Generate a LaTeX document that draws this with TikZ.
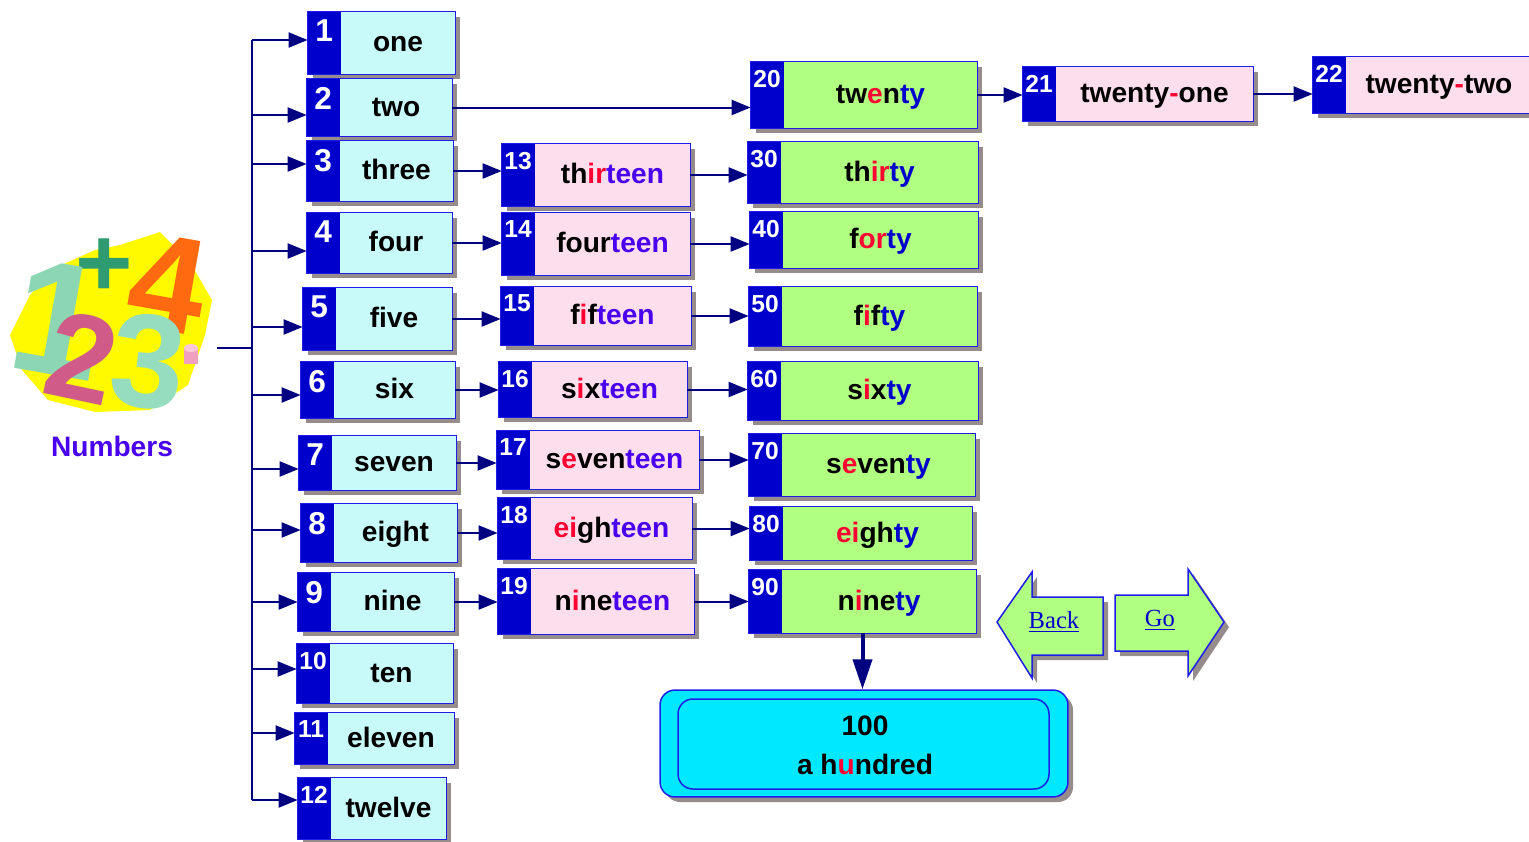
\documentclass[tikz,border=0pt]{standalone}
\usepackage{fontspec}
\setmainfont{Liberation Sans}
\newfontfamily\backfont{Liberation Serif}
\usepackage{xcolor}
\usetikzlibrary{arrows.meta,calc}

\definecolor{numblue}{RGB}{0,0,204}
\definecolor{edgeblue}{RGB}{30,30,230}
\definecolor{navy}{RGB}{0,0,128}
\definecolor{lightcyan}{RGB}{200,250,250}
\definecolor{lightpink}{RGB}{252,222,236}
\definecolor{lightgreen}{RGB}{176,255,128}
\definecolor{boxshadow}{RGB}{150,140,140}
\definecolor{wordred}{RGB}{255,0,51}
\definecolor{teenviolet}{RGB}{72,0,238}
\definecolor{tyblue}{RGB}{0,0,204}
\definecolor{hundredcyan}{RGB}{0,232,255}
\definecolor{artyellow}{RGB}{255,250,0}
\definecolor{artgreen}{RGB}{46,156,112}
\definecolor{artorange}{RGB}{255,106,16}
\definecolor{artteal}{RGB}{140,214,180}
\definecolor{artrose}{RGB}{208,90,136}
\definecolor{artmint}{RGB}{150,220,190}
\definecolor{artpink}{RGB}{240,160,190}
\definecolor{artpale}{RGB}{250,200,215}

\newcommand{\rd}[1]{\textcolor{wordred}{#1}}
\newcommand{\tn}[1]{\textcolor{teenviolet}{#1}}
\newcommand{\ty}[1]{\textcolor{tyblue}{#1}}
\newcommand{\onedigit}[1]{{\fontsize{18}{18}\selectfont #1}}

\tikzset{
  wordbox/.style={rectangle, inner sep=0pt, draw=none},
  numlabel/.style={anchor=north, inner sep=0pt, text=white,
    font=\bfseries\fontsize{14}{14}\selectfont},
  wordlabel/.style={inner sep=0pt, font=\bfseries\fontsize{16}{16}\selectfont},
  artdigit/.style={inner sep=0pt, font=\bfseries\fontsize{#1}{#1}\selectfont},
  link/.style={navy, line width=0.04cm, -{Triangle[length=0.38cm,width=0.3cm]}},
  wire/.style={navy, line width=0.04cm},
}

% box with number block: name, left, top, right, bottom, number, word, fill
\newcommand{\numbox}[8]{%
  \pgfmathsetmacro\boxw{(#4-#2)*0.02}%
  \pgfmathsetmacro\boxh{(#5-#3)*0.02}%
  \fill[boxshadow] (#2+5,#3+5) rectangle (#4+5,#5+5);%
  \node[wordbox, fill=#8, minimum width=\boxw*1cm, minimum height=\boxh*1cm] (#1) at ({(#2+#4)/2},{(#3+#5)/2}) {};%
  \fill[numblue] (#1.north west) rectangle ([xshift=0.66cm]#1.south west);%
  \draw[edgeblue, line width=0.03cm] (#1.north west) rectangle (#1.south east);%
  \node[numlabel] at ([xshift=0.33cm,yshift=-0.16cm]#1.north west) {#6};%
  \node[wordlabel, anchor=base] at ([xshift=0.33cm,yshift=-0.17cm]#1.center) {#7};%
}

\begin{document}
\begin{tikzpicture}[x=0.02cm,y=-0.02cm]
            \useasboundingbox (0,0) rectangle (1529,842);
            \clip (0,0) rectangle (1529,842);
            
            % Drawing the clip art
            \fill[artyellow] (10,335) -- (30,295) -- (55,268) -- (95,250) -- (120,245) -- (160,232) -- (190,262) -- (212,300) -- (205,335) -- (188,385) -- (150,410) -- (95,412) -- (48,400) -- (22,370) -- cycle;%
            \node[artdigit=56, text=artgreen] (plus) at (104,268) {+};%
            \node[artdigit=78, rotate=-10, text=artorange] (four) at (168,284) {4};%
            \node[artdigit=92, rotate=-10, text=artteal] (one) at (58,320) {1};%
            \node[artdigit=70, rotate=-12, text=artrose] (two) at (82,358) {2};%
            \node[artdigit=76, rotate=-6, text=artmint] (three) at (148,362) {3};%
            \fill[artpink] (184,348) rectangle (198,364);%
            \fill[artpale] (191,348) ellipse (7 and 4);%
            \node[inner sep=0pt, minimum width=4.2cm, minimum height=3.7cm] (art) at (112,325) {};%
            \node[wordlabel, text=teenviolet] (title) at (112,446) {Numbers};%
            
            % Drawing boxes one to twelve
            \numbox{b1}{308}{12}{455}{74}{\onedigit{1}}{one}{lightcyan}%
            \numbox{b2}{307}{79}{452}{136}{\onedigit{2}}{two}{lightcyan}%
            \numbox{b3}{307}{141}{453}{201}{\onedigit{3}}{three}{lightcyan}%
            \numbox{b4}{307}{213}{452}{273}{\onedigit{4}}{four}{lightcyan}%
            \numbox{b5}{303}{288}{452}{350}{\onedigit{5}}{five}{lightcyan}%
            \numbox{b6}{301}{362}{455}{418}{\onedigit{6}}{six}{lightcyan}%
            \numbox{b7}{299}{436}{456}{490}{\onedigit{7}}{seven}{lightcyan}%
            \numbox{b8}{301}{504}{457}{562}{\onedigit{8}}{eight}{lightcyan}%
            \numbox{b9}{298}{573}{454}{631}{\onedigit{9}}{nine}{lightcyan}%
            \numbox{b10}{297}{644}{453}{703}{10}{ten}{lightcyan}%
            \numbox{b11}{295}{713}{454}{764}{11}{eleven}{lightcyan}%
            \numbox{b12}{298}{778}{446}{839}{12}{twelve}{lightcyan}%
            
            % Drawing boxes thirteen to nineteen
            \numbox{b13}{502}{144}{690}{206}{13}{th\rd{ir}\tn{teen}}{lightpink}%
            \numbox{b14}{502}{213}{690}{275}{14}{four\tn{teen}}{lightpink}%
            \numbox{b15}{501}{287}{691}{345}{15}{f\rd{i}f\tn{teen}}{lightpink}%
            \numbox{b16}{499}{362}{687}{417}{16}{s\rd{i}x\tn{teen}}{lightpink}%
            \numbox{b17}{497}{431}{699}{489}{17}{s\rd{e}ven\tn{teen}}{lightpink}%
            \numbox{b18}{498}{498}{692}{559}{18}{\rd{ei}gh\tn{teen}}{lightpink}%
            \numbox{b19}{498}{569}{694}{634}{19}{n\rd{i}ne\tn{teen}}{lightpink}%
            
            % Drawing the tens
            \numbox{b20}{751}{62}{977}{128}{20}{tw\rd{e}n\ty{ty}}{lightgreen}%
            \numbox{b30}{748}{142}{978}{203}{30}{th\rd{ir}\ty{ty}}{lightgreen}%
            \numbox{b40}{750}{212}{978}{268}{40}{f\rd{or}\ty{ty}}{lightgreen}%
            \numbox{b50}{749}{287}{977}{346}{50}{f\rd{i}f\ty{ty}}{lightgreen}%
            \numbox{b60}{748}{362}{978}{420}{60}{s\rd{i}x\ty{ty}}{lightgreen}%
            \numbox{b70}{749}{434}{975}{496}{70}{s\rd{e}ven\ty{ty}}{lightgreen}%
            \numbox{b80}{750}{507}{972}{560}{80}{\rd{ei}gh\ty{ty}}{lightgreen}%
            \numbox{b90}{749}{570}{976}{633}{90}{n\rd{i}ne\ty{ty}}{lightgreen}%
            
            % Drawing twenty-one and twenty-two
            \numbox{b21}{1023}{67}{1253}{121}{21}{twenty\rd{-}one}{lightpink}%
            \numbox{b22}{1313}{57}{1532}{113}{22}{twenty\rd{-}two}{lightpink}%
            
            % Drawing the hundred box
            \fill[boxshadow, rounded corners=0.3cm] (665,695) rectangle (1073,802);%
            \node[wordbox, fill=hundredcyan, draw=edgeblue, line width=0.03cm, rounded corners=0.3cm, minimum width=8.16cm, minimum height=2.14cm] (b100) at (864,743.5) {};%
            \draw[edgeblue, line width=0.03cm, rounded corners=0.3cm] (678,699) rectangle (1049,789);%
            \node[wordlabel] (hundred) at (865,726) {100};%
            \node[wordlabel] (ahundred) at (865,764) {a h\rd{u}ndred};%
            
            % Drawing Back and Go
            \fill[boxshadow] (1002,627) -- (1037,577) -- (1037,602) -- (1108,602) -- (1108,660) -- (1037,660) -- (1037,683) -- cycle;%
            \filldraw[fill=lightgreen, draw=edgeblue, line width=0.03cm] (997,622) -- (1032,572) -- (1032,597) -- (1103,597) -- (1103,655) -- (1032,655) -- (1032,678) -- cycle;%
            \fill[boxshadow] (1120,600) -- (1193,600) -- (1193,574) -- (1229,627) -- (1193,681) -- (1193,656) -- (1120,656) -- cycle;%
            \filldraw[fill=lightgreen, draw=edgeblue, line width=0.03cm] (1115,595) -- (1188,595) -- (1188,569) -- (1224,622) -- (1188,676) -- (1188,651) -- (1115,651) -- cycle;%
            \node[text=tyblue, font=\backfont\fontsize{14}{14}\selectfont] (back) at (1054,622) {\underline{Back}};%
            \node[text=tyblue, font=\backfont\fontsize{14}{14}\selectfont] (go) at (1160,620) {\underline{Go}};%
            
            % Drawing the trunk and branches
            \coordinate (trunk) at (252,348);%
            \draw[wire] (trunk -| art.east) -- (trunk);%
            \draw[wire] ([yshift=0.06cm]b1.west -| trunk) -- ([yshift=0.17cm]b12.west -| trunk);%
            \draw[link] ([yshift=0.06cm]b1.west -| trunk) -- ([yshift=0.06cm]b1.west);%
            \draw[link] ([yshift=-0.15cm]b2.west -| trunk) -- ([yshift=-0.15cm]b2.west);%
            \draw[link] ([yshift=0.14cm]b3.west -| trunk) -- ([yshift=0.14cm]b3.west);%
            \draw[link] ([yshift=-0.16cm]b4.west -| trunk) -- ([yshift=-0.16cm]b4.west);%
            \draw[link] ([yshift=-0.16cm]b5.west -| trunk) -- ([yshift=-0.16cm]b5.west);%
            \draw[link] ([yshift=-0.1cm]b6.west -| trunk) -- ([yshift=-0.1cm]b6.west);%
            \draw[link] ([yshift=-0.12cm]b7.west -| trunk) -- ([yshift=-0.12cm]b7.west);%
            \draw[link] ([yshift=0.06cm]b8.west -| trunk) -- ([yshift=0.06cm]b8.west);%
            \draw[link] (b9.west -| trunk) -- (b9.west);%
            \draw[link] ([yshift=0.09cm]b10.west -| trunk) -- ([yshift=0.09cm]b10.west);%
            \draw[link] ([yshift=0.11cm]b11.west -| trunk) -- ([yshift=0.11cm]b11.west);%
            \draw[link] ([yshift=0.17cm]b12.west -| trunk) -- ([yshift=0.17cm]b12.west);%
            
            % Drawing arrows between columns
            \draw[link] (b2.east) -- (b2.east -| b20.west);%
            \draw[link] (b3.east) -- (b3.east -| b13.west);%
            \draw[link] (b4.east) -- (b4.east -| b14.west);%
            \draw[link] (b5.east) -- (b5.east -| b15.west);%
            \draw[link] (b6.east) -- (b6.east -| b16.west);%
            \draw[link] (b7.east) -- (b7.east -| b17.west);%
            \draw[link] (b8.east) -- (b8.east -| b18.west);%
            \draw[link] (b9.east) -- (b9.east -| b19.west);%
            \draw[link] (b13.east) -- (b13.east -| b30.west);%
            \draw[link] (b14.east) -- (b14.east -| b40.west);%
            \draw[link] (b15.east) -- (b15.east -| b50.west);%
            \draw[link] (b16.east) -- (b16.east -| b60.west);%
            \draw[link] (b17.east) -- (b17.east -| b70.west);%
            \draw[link] (b18.east) -- (b18.east -| b80.west);%
            \draw[link] (b19.east) -- (b19.east -| b90.west);%
            \draw[link] (b20.east) -- (b20.east -| b21.west);%
            \draw[link] (b21.east) -- (b21.east -| b22.west);%
            \draw[link, line width=0.08cm, -{Triangle[length=0.6cm,width=0.38cm]}] (b90.south) -- (b90.south |- b100.north);%
\end{tikzpicture}
\end{document}
